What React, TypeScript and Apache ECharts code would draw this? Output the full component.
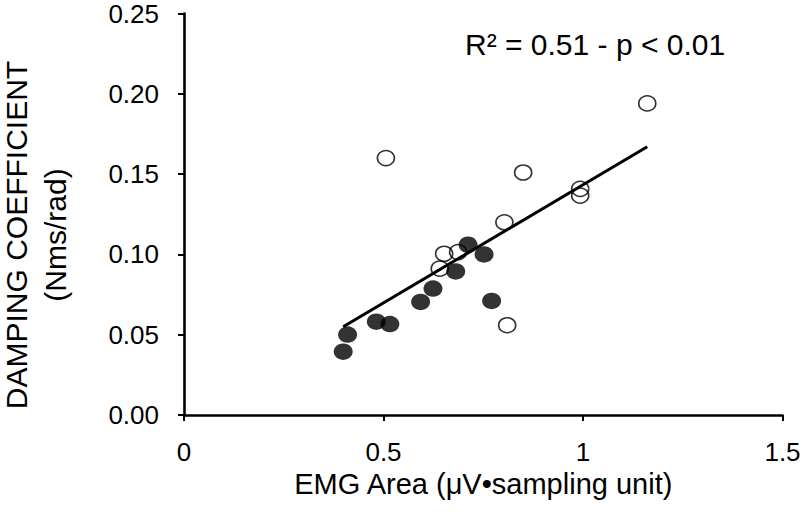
import React, { useEffect, useRef } from "react";
import * as echarts from "echarts";

const filledX = [0.399, 0.41, 0.482, 0.516, 0.593, 0.624, 0.681, 0.712, 0.752, 0.771];
const filledY = [0.0394, 0.0501, 0.0581, 0.0566, 0.0704, 0.0787, 0.0894, 0.106, 0.1, 0.071];
const openX = [0.506, 0.641, 0.652, 0.687, 0.803, 0.81, 0.85, 0.993, 0.993, 1.161];
const openY = [0.16, 0.0911, 0.1004, 0.1014, 0.12, 0.0559, 0.151, 0.1408, 0.1366, 0.194];
const trendX = [0.399, 1.161];
const trendY = [0.055, 0.167];
const xTicks = [0, 0.5, 1, 1.5];
const yTicks = [0, 0.05, 0.1, 0.15, 0.2, 0.25];
const xTitle = "EMG Area (μV•sampling unit)";
const yTitleLines = ["DAMPING COEFFICIENT", "(Nms/rad)"];
const statText = "R² = 0.51 - p < 0.01";

const FONT = "'Liberation Sans', Arial, sans-serif";

export default function App() {
  const ref = useRef<HTMLDivElement>(null);
  useEffect(() => {
    if (!ref.current) return;
    const chart = echarts.init(ref.current, null, { renderer: "svg" });
    const zip = (xs: number[], ys: number[]) => xs.map((x, i) => [x, ys[i]]);
    const yTitleX = [16.5, 55.5];
    chart.setOption({
      animation: false,
      backgroundColor: "#fff",
      grid: {
        left: 184,
        right: 22.5,
        top: 13.5,
        bottom: 103,
        containLabel: false,
        outerBoundsMode: "none",
      },
      xAxis: {
        type: "value",
        min: xTicks[0],
        max: xTicks[xTicks.length - 1],
        interval: 0.5,
        name: xTitle,
        nameLocation: "middle",
        nameGap: 51,
        nameTextStyle: { fontFamily: FONT, fontSize: 29, color: "#000" },
        axisLine: { show: true, lineStyle: { color: "#000", width: 2.6 } },
        axisTick: { show: true, inside: false, length: 6, lineStyle: { color: "#000", width: 2 } },
        splitLine: { show: false },
        axisLabel: {
          fontFamily: FONT,
          fontSize: 26,
          color: "#000",
          margin: 24,
          formatter: (v: number) => String(v),
        },
      },
      yAxis: {
        type: "value",
        min: yTicks[0],
        max: yTicks[yTicks.length - 1],
        interval: 0.05,
        axisLine: { show: true, lineStyle: { color: "#000", width: 2.6 } },
        axisTick: { show: true, inside: false, length: 6, lineStyle: { color: "#000", width: 2 } },
        splitLine: { show: false },
        axisLabel: {
          fontFamily: FONT,
          fontSize: 26,
          lineHeight: 22,
          color: "#000",
          margin: 25,
          formatter: (v: number) => v.toFixed(2),
        },
      },
      series: [
        {
          type: "scatter",
          data: zip(openX, openY),
          symbol: "circle",
          symbolSize: [17, 15],
          itemStyle: { color: "rgba(255,255,255,0)", borderColor: "#000", borderWidth: 1.6 },
          z: 2,
        },
        {
          type: "scatter",
          data: zip(filledX, filledY),
          symbol: "circle",
          symbolSize: [19, 16.5],
          itemStyle: { color: "#000" },
          z: 3,
        },
        {
          type: "line",
          data: zip(trendX, trendY),
          showSymbol: false,
          symbol: "none",
          lineStyle: { color: "#000", width: 3 },
          z: 4,
        },
      ],
      graphic: [
        ...yTitleLines.map((t, i) => ({
          type: "text",
          x: yTitleX[i],
          y: 235,
          rotation: Math.PI / 2,
          style: {
            text: t,
            fontFamily: FONT,
            fontSize: 30,
            fill: "#000",
            textAlign: "center",
            textVerticalAlign: "middle",
            verticalAlign: "middle",
          },
        })),
        {
          type: "text",
          x: 465,
          y: 44,
          style: {
            text: statText,
            fontFamily: FONT,
            fontSize: 30,
            fill: "#000",
            textAlign: "left",
            textVerticalAlign: "middle",
            verticalAlign: "middle",
          },
        },
      ],
    });
    return () => chart.dispose();
  }, []);
  return (
    <div
      ref={ref}
      style={{ position: "absolute", left: 0, top: 0, width: 805, height: 518 }}
    />
  );
}
